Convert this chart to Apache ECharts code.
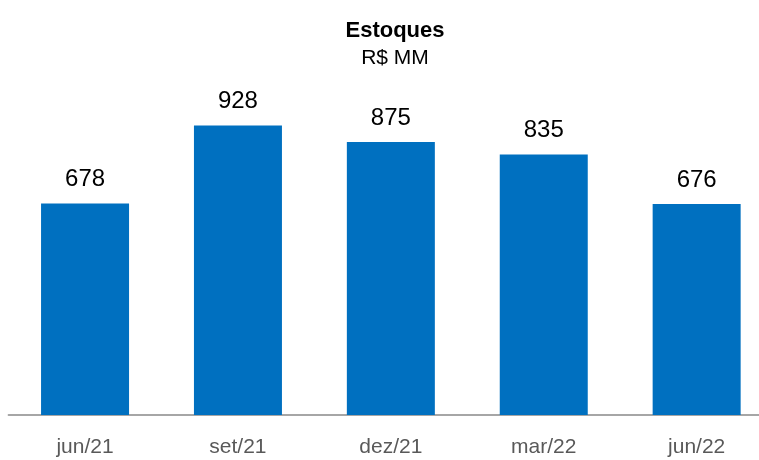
<!DOCTYPE html>
<html>
<head>
<meta charset="utf-8">
<script src="https://cdn.jsdelivr.net/npm/echarts@6/dist/echarts.min.js"></script>
<style>html,body{margin:0;padding:0;background:#fff;overflow:hidden}#c{width:774px;height:460px}</style>
</head>
<body>
<div id="c"></div>
<script>
const categories = ['jun/21', 'set/21', 'dez/21', 'mar/22', 'jun/22'];
const values = [678, 928, 875, 835, 676];
const titleText = 'Estoques';
const subtitleText = 'R$ MM';

const font = "'Liberation Sans', Arial, sans-serif";
const chart = echarts.init(document.getElementById('c'), null, {renderer: 'canvas'});
chart.setOption({
  animation: false,
  backgroundColor: '#ffffff',
  title: {
    text: titleText,
    subtext: subtitleText,
    left: 390,
    textAlign: 'center',
    top: 15,
    itemGap: 6,
    textStyle: {fontFamily: font, fontWeight: 'bold', fontSize: 22, color: '#000'},
    subtextStyle: {fontFamily: font, fontSize: 21, color: '#000'}
  },
  grid: {left: 8.6, width: 764.5, top: 103, bottom: 45, containLabel: false},
  xAxis: {
    type: 'category',
    data: categories,
    axisLine: {lineStyle: {color: '#a6a6a6', width: 2}},
    axisTick: {show: false},
    axisLabel: {fontFamily: font, fontSize: 21, color: '#595959', margin: 22}
  },
  yAxis: {
    type: 'value', min: 0, max: 1000, show: false,
    splitLine: {show: false}
  },
  series: [{
    type: 'bar',
    data: values,
    barWidth: 88,
    itemStyle: {color: '#0070C0'},
    label: {
      show: true, position: 'top', distance: 12,
      fontFamily: font, fontSize: 24, color: '#000'
    }
  }]
});
</script>
</body>
</html>
